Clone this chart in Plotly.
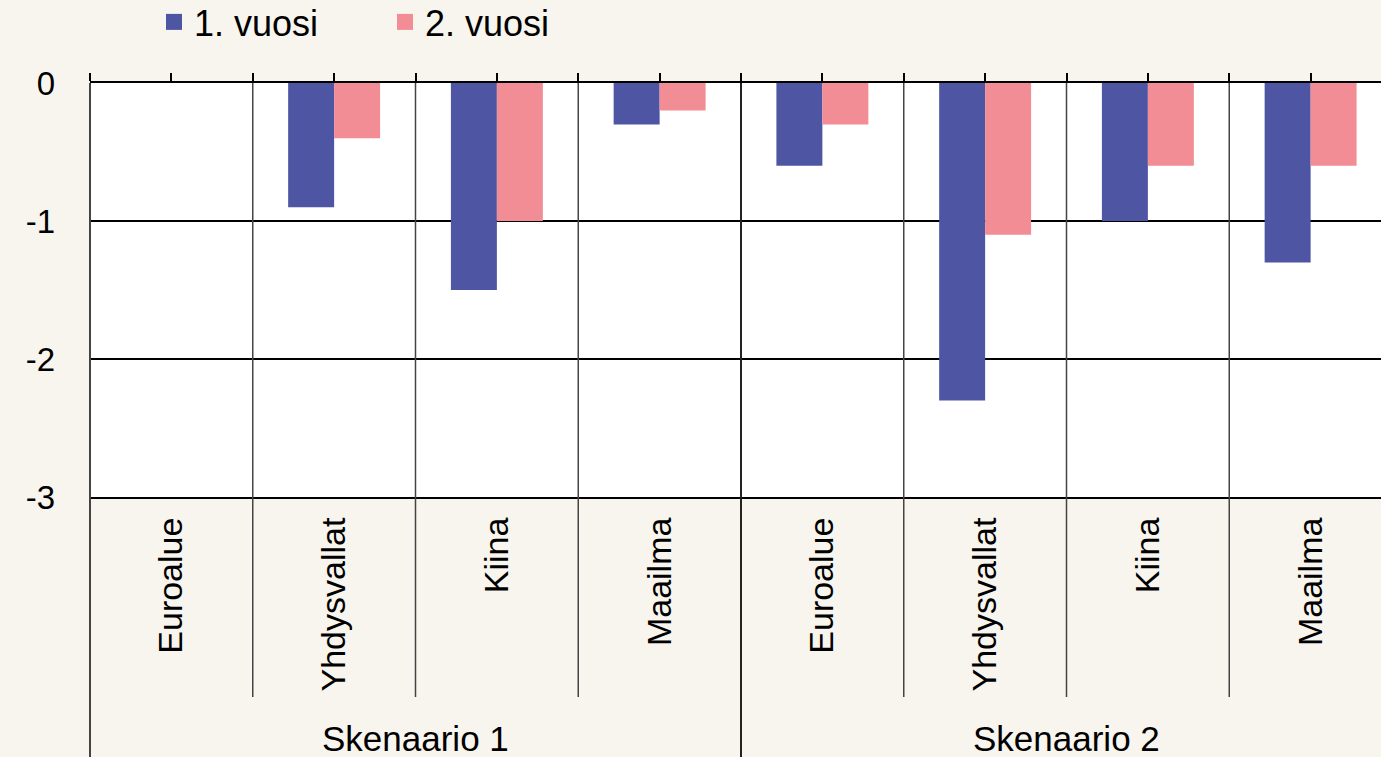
import plotly.graph_objects as go

# ---- data ----
scenarios = ["Skenaario 1", "Skenaario 2"]
countries = ["Euroalue", "Yhdysvallat", "Kiina", "Maailma"]
series_names = ["1. vuosi", "2. vuosi"]
year1 = [0.0, -0.9, -1.5, -0.3, -0.6, -2.3, -1.0, -1.3]
year2 = [0.0, -0.4, -1.0, -0.2, -0.3, -1.1, -0.6, -0.6]
y_ticks = [0, -1, -2, -3]
y_tick_text = ["0", "-1", "-2", "-3"]

# ---- derived ----
cat_labels = countries * len(scenarios)
pos = list(range(len(cat_labels)))
n_per = len(countries)

BLUE = "#4E56A4"
PINK = "#F28C95"
BG = "#F8F4EE"
FONT = "Liberation Sans, Arial, sans-serif"

W, H = 1381, 757
L, R, T, B = 90, 0, 83, 260
plot_w = W - L - R
plot_h = H - T - B
cat_px = (741 - 90) / 4.0  # pixel width of one category
x_max = -0.5 + plot_w / cat_px

def py(pix):
    """pixel y (from top) -> paper y"""
    return (H - B - pix) / plot_h

fig = go.Figure()
colors = [BLUE, PINK]
for name, vals, col in zip(series_names, [year1, year2], colors):
    fig.add_bar(x=pos, y=vals, name=name, marker_color=col,
                marker_line_width=0, showlegend=False, legendgroup=name)
# legend entries (square keys)
for name, col in zip(series_names, colors):
    fig.add_scatter(x=[None], y=[None], name=name, mode="markers",
                    marker=dict(symbol="square", size=16, color=col),
                    legendgroup=name, hoverinfo="skip")
# invisible helper so the label axis is drawn
fig.add_scatter(x=pos, y=[None] * len(pos), xaxis="x2", showlegend=False,
                hoverinfo="skip", mode="markers")

shapes = []
for i in range(1, len(pos)):
    b = i - 0.5
    if i % n_per == 0:
        shapes.append(dict(type="line", xref="x", yref="paper", x0=b, x1=b,
                           y0=1.0, y1=py(H + 5), line=dict(color="#222", width=2),
                           layer="above"))
    else:
        shapes.append(dict(type="line", xref="x", yref="paper", x0=b, x1=b,
                           y0=1.0, y1=py(697), line=dict(color="#444", width=1.5),
                           layer="above"))
shapes.append(dict(type="line", xref="paper", yref="paper", x0=0, x1=0,
                   y0=1.0, y1=py(H + 5), line=dict(color="#444", width=2),
                   layer="above"))

annotations = []
for g, name in enumerate(scenarios):
    annotations.append(dict(x=g * n_per + (n_per - 1) / 2, xref="x",
                            y=py(738), yref="paper", text=name,
                            showarrow=False, yanchor="middle",
                            font=dict(size=35, color="black", family=FONT)))

fig.update_layout(
    width=W, height=H,
    margin=dict(l=L, r=R, t=T, b=B, pad=0, autoexpand=False),
    paper_bgcolor=BG, plot_bgcolor="white",
    barmode="group", bargap=0.435, bargroupgap=0,
    font=dict(family=FONT, color="black", size=32),
    showlegend=True,
    legend=dict(orientation="h", x=(154 - L) / plot_w, xanchor="left",
                y=py(22), yanchor="middle", bgcolor="rgba(0,0,0,0)",
                font=dict(size=36, family=FONT), entrywidth=186,
                entrywidthmode="pixels", traceorder="normal",
                itemwidth=30),
    shapes=shapes,
    annotations=annotations,
    xaxis=dict(range=[-0.5, x_max], side="top", showline=True,
               linecolor="black", linewidth=2, ticks="outside", ticklen=8,
               tickwidth=1.5, tickcolor="black",
               tickvals=[p - 0.5 for p in pos] + pos + [pos[-1] + 0.5],
               showticklabels=False, showgrid=False, zeroline=False,
               fixedrange=True),
    xaxis2=dict(overlaying="x", side="bottom", anchor="y", matches="x",
                range=[-0.5, x_max], tickmode="array", tickvals=pos,
                ticktext=cat_labels, tickangle=-90, ticks="",
                showline=True, linecolor="black", linewidth=2,
                showgrid=False, zeroline=False, ticklabelstandoff=5,
                tickfont=dict(size=34, family=FONT, color="black")),
    yaxis=dict(range=[-3, 0], tickmode="array", tickvals=y_ticks,
               ticktext=y_tick_text, showgrid=True,
               gridcolor="black", gridwidth=2, zeroline=False,
               showline=False, ticks="", ticklabelstandoff=34,
               tickfont=dict(size=33, family=FONT, color="black")),
)

fig.write_html("out.html", config={"displayModeBar": False},
               post_script="document.body.style.margin='0px';")
